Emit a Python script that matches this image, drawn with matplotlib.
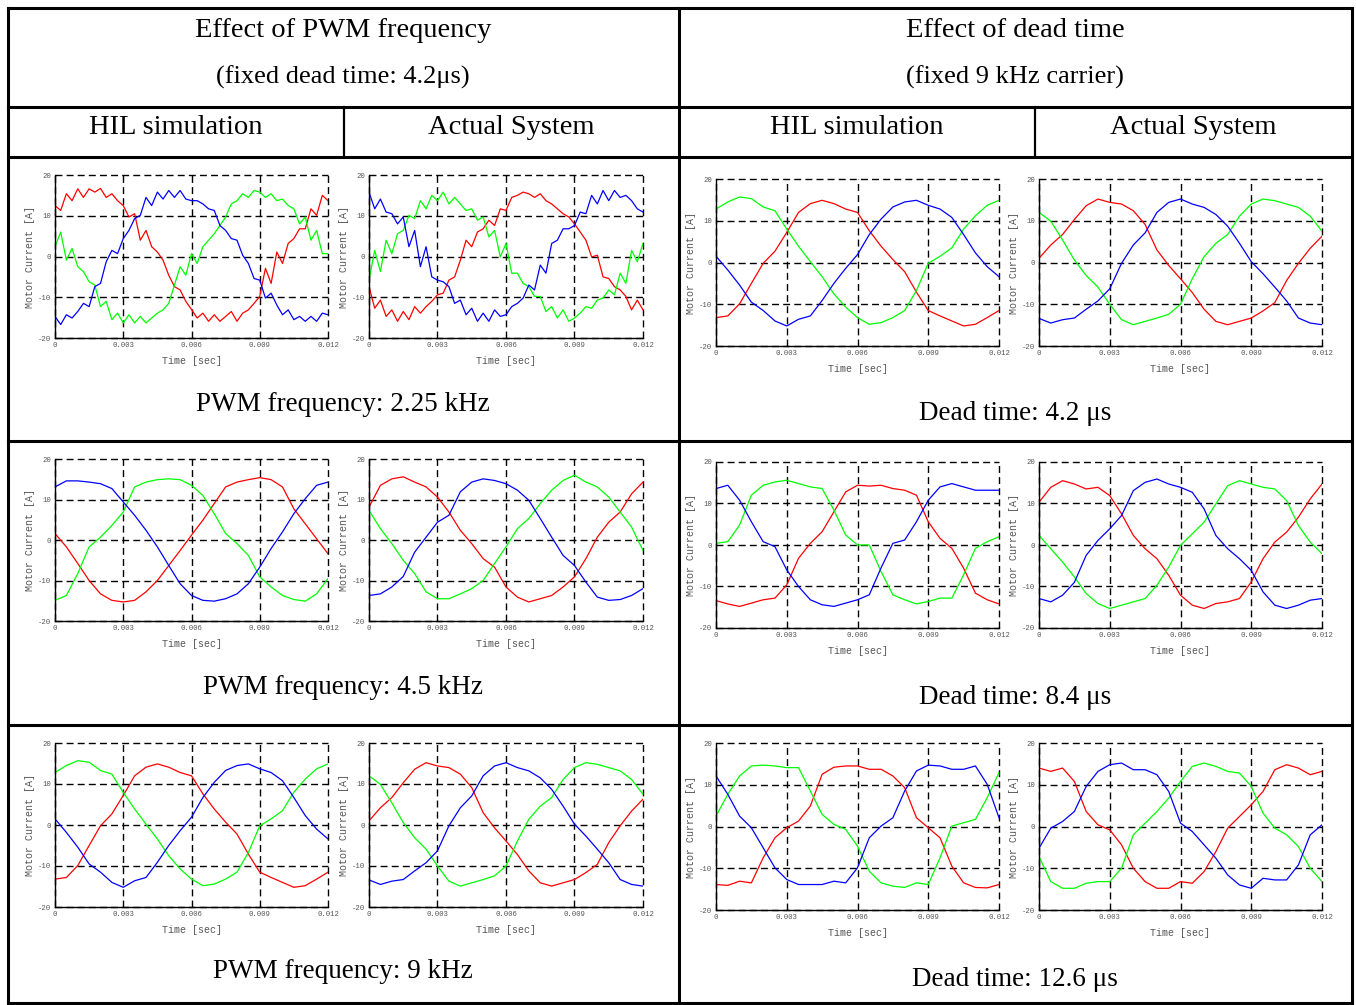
import numpy as np
import matplotlib
matplotlib.use("Agg")
import matplotlib.pyplot as plt

W, H = 1356, 1005

# sample times of the traces
t_fine = np.linspace(0, 0.012, 49)    # 2.25 kHz traces, every 0.25 ms
t_coarse = np.linspace(0, 0.012, 25)  # all other traces, every 0.5 ms

# --- PWM 2.25 kHz ---
pwm225_hil_red = [12.5, 11.3, 15.4, 13.7, 16.6, 14.5, 16.6, 15.8, 16.7, 14.5, 15.4, 13.7, 12.5, 9.7, 10.5,
                  4.0, 6.4, 2.4, 1.1, -0.9, -4.6, -7.4, -8.2, -11.0, -13.0, -15.1, -13.9, -15.9, -14.3,
                  -15.9, -14.7, -13.5, -15.9, -13.9, -13.1, -11.5, -9.8, -2.9, -6.6, 1.1, -1.7, 3.2, 4.4,
                  6.8, 6.8, 11.7, 10.1, 15.0, 13.7]
pwm225_hil_green = [2.4, 6.0, -0.9, 2.0, -2.5, -3.7, -6.2, -7.0, -12.3, -11.0, -15.5, -13.9, -16.3, -14.3,
                    -16.3, -14.7, -16.3, -15.1, -13.9, -13.1, -11.5, -7.0, -2.5, -4.6, 0.7, -1.7, 2.4, 4.0,
                    5.6, 7.6, 9.7, 12.9, 13.7, 15.4, 14.5, 16.2, 15.8, 14.5, 15.4, 13.7, 14.1, 12.5, 11.7,
                    8.0, 9.7, 4.0, 6.4, 0.7, 0.7]
pwm225_hil_blue = [-14.7, -16.7, -14.3, -15.1, -13.5, -11.5, -12.3, -7.4, -6.6, -1.3, 1.5, 0.7, 4.4, 6.4,
                   9.3, 10.1, 14.5, 12.5, 15.8, 14.1, 16.2, 14.5, 16.2, 14.1, 13.7, 13.7, 12.9, 11.7, 11.3,
                   7.6, 6.4, 4.4, 4.0, 0.3, -1.7, -5.4, -5.8, -10.2, -9.0, -11.9, -14.3, -13.1, -15.5,
                   -14.7, -15.9, -14.7, -15.9, -13.9, -14.3]
pwm225_act_red = [-7.4, -12.7, -10.7, -14.7, -13.1, -15.9, -13.5, -15.5, -12.3, -13.9, -12.3, -11.0, -9.4,
                  -9.0, -5.8, -5.0, -0.9, 4.0, 2.4, 6.0, 6.8, 8.9, 7.6, 11.7, 11.3, 14.5, 15.0, 15.8, 15.4,
                  14.5, 15.4, 13.7, 12.9, 11.7, 10.5, 9.7, 8.0, 6.0, 4.0, -0.1, 0.3, -5.0, -5.4, -7.4,
                  -8.2, -9.8, -13.1, -10.7, -13.1]
pwm225_act_green = [-5.8, 1.5, -3.7, 4.0, 0.7, 5.6, 6.4, 10.1, 9.3, 13.7, 11.7, 15.0, 13.7, 15.8, 12.9,
                    14.5, 12.9, 11.3, 11.7, 8.9, 9.7, 4.8, 6.4, -0.1, 3.2, -4.1, -4.1, -6.6, -7.4, -9.8,
                    -9.8, -13.5, -12.3, -15.1, -13.1, -15.9, -15.1, -13.9, -12.3, -12.7, -10.7, -10.2,
                    -8.2, -9.4, -4.1, -6.6, 1.5, -1.3, 3.2]
pwm225_act_blue = [15.8, 11.7, 14.1, 10.9, 10.5, 8.0, 9.7, 2.4, 6.4, -2.5, 2.4, -5.0, -5.8, -6.2, -7.4,
                   -11.5, -10.7, -14.3, -12.7, -15.9, -13.9, -15.9, -13.1, -14.7, -14.3, -12.3, -11.5,
                   -10.2, -7.0, -8.2, -2.1, -4.1, 3.2, 4.0, 6.8, 6.8, 7.6, 10.9, 10.5, 15.0, 12.9, 16.2,
                   13.7, 16.2, 14.5, 15.0, 13.7, 11.7, 10.9]

# --- PWM 4.5 kHz ---
pwm45_hil_red = [1.6, -1.7, -5.8, -10.0, -13.3, -14.9, -15.3, -14.9, -12.8, -10.0, -6.3, -2.6, 1.2, 4.9,
                 9.0, 13.1, 14.3, 14.9, 15.4, 14.9, 13.1, 7.7, 4.0, 0.3, -3.4]
pwm45_hil_green = [-14.9, -13.7, -8.3, -1.7, 0.7, 3.6, 6.9, 13.1, 14.3, 14.9, 15.1, 14.9, 13.5, 11.0, 6.5,
                   1.6, -0.9, -3.8, -9.1, -11.6, -13.7, -14.7, -15.1, -13.3, -9.5]
pwm45_hil_blue = [13.1, 14.6, 14.6, 14.3, 13.9, 12.7, 9.4, 6.1, 2.4, -1.7, -6.3, -10.8, -13.7, -14.9,
                  -15.1, -14.5, -13.3, -10.8, -6.7, -2.1, 2.0, 6.5, 10.2, 13.5, 14.3]
pwm45_act_red = [8.1, 13.5, 15.1, 15.6, 14.3, 13.1, 10.6, 6.9, 2.4, -0.9, -4.6, -6.7, -11.6, -14.1, -15.3,
                 -14.5, -13.7, -11.6, -9.1, -4.6, 0.7, 4.4, 6.9, 11.4, 14.3]
pwm45_act_green = [7.3, 2.8, -0.9, -5.0, -8.3, -12.8, -14.5, -14.5, -13.3, -12.0, -10.0, -5.8, -1.7, 2.8,
                   5.3, 9.0, 12.3, 14.7, 16.0, 14.3, 13.1, 10.6, 6.9, 3.2, -2.6]
pwm45_act_blue = [-13.7, -13.3, -11.6, -9.0, -3.0, 0.7, 4.4, 6.1, 11.9, 14.3, 15.1, 14.7, 13.9, 12.3, 9.8,
                  5.3, 0.7, -3.8, -6.3, -10.4, -14.1, -14.9, -14.7, -13.7, -12.0]

# --- PWM 9 kHz (same records as dead time 4.2 us) ---
pwm9_hil_red = [-13.2, -12.8, -9.9, -5.0, -0.2, 2.7, 7.2, 12.0, 14.1, 14.9, 14.1, 12.8, 12.0, 7.6, 3.9,
                0.7, -2.2, -7.1, -11.5, -12.8, -14.0, -15.2, -14.8, -13.2, -11.5]
pwm9_hil_green = [12.8, 14.5, 15.7, 15.3, 13.3, 12.4, 8.0, 3.9, 0.2, -3.4, -7.5, -10.7, -13.2, -14.8, -14.4,
                  -13.2, -11.5, -6.7, -0.2, 1.5, 3.5, 8.0, 11.2, 13.7, 14.9]
pwm9_hil_blue = [1.5, -1.8, -5.4, -9.5, -11.5, -14.0, -15.2, -13.6, -12.8, -9.1, -5.0, -1.4, 1.9, 6.7, 10.4,
                 13.3, 14.5, 14.9, 13.7, 12.8, 10.8, 6.7, 2.3, -1.0, -3.4]
pwm9_act_red = [1.0, 4.2, 6.7, 10.3, 13.6, 15.2, 14.4, 14.0, 12.4, 9.1, 3.0, -0.7, -3.9, -7.2, -11.2, -14.1,
                -14.9, -14.1, -13.3, -11.6, -9.6, -4.3, -0.2, 3.4, 6.3]
pwm9_act_green = [12.0, 9.9, 5.4, 0.6, -3.1, -5.9, -10.0, -13.7, -14.9, -14.1, -13.3, -12.4, -10.0, -3.9,
                  1.4, 4.6, 6.7, 11.1, 14.0, 15.2, 14.8, 14.0, 13.2, 11.1, 7.5]
pwm9_act_blue = [-13.4, -14.5, -13.7, -13.3, -11.2, -9.2, -6.3, -0.2, 4.2, 7.1, 12.0, 14.4, 15.2, 14.0, 13.2,
                 11.5, 8.7, 4.6, 0.2, -2.7, -5.9, -9.2, -13.3, -14.5, -14.9]

# --- dead time 8.4 us ---
dt84_hil_red = [-13.4, -14.2, -14.8, -14.0, -13.2, -12.8, -9.6, -3.2, 0.4, 3.2, 8.0, 12.8, 14.4, 14.2, 14.4,
                13.6, 13.2, 12.0, 5.6, 1.6, -0.8, -5.6, -11.6, -13.2, -14.2]
dt84_hil_green = [0.4, 0.8, 4.8, 12.0, 14.4, 15.2, 15.6, 14.8, 14.0, 13.6, 8.4, 2.4, 0.0, 0.0, -6.4, -12.0,
                  -13.2, -14.2, -13.6, -12.8, -12.8, -7.2, -0.8, 0.8, 2.0]
dt84_hil_blue = [13.6, 14.4, 10.8, 5.6, 0.8, -0.4, -6.0, -10.0, -13.2, -14.4, -14.8, -14.0, -13.2, -12.0,
                 -5.5, 0.4, 1.2, 5.6, 10.8, 14.0, 14.8, 14.0, 13.2, 13.2, 13.2]
dt84_act_red = [10.3, 13.9, 15.5, 14.7, 13.5, 13.9, 11.9, 7.5, 2.3, -0.9, -3.3, -7.3, -12.1, -14.5, -15.3,
                -14.1, -13.7, -12.9, -8.9, -3.3, 0.7, 3.1, 6.7, 11.1, 14.7]
dt84_act_green = [2.3, -0.9, -4.1, -7.7, -11.7, -14.1, -15.3, -14.5, -13.7, -12.9, -9.7, -5.3, -0.1, 2.7,
                  5.5, 9.9, 14.3, 15.5, 14.7, 13.9, 13.5, 10.7, 4.7, 0.7, -2.1]
dt84_act_blue = [-12.9, -13.7, -12.1, -9.0, -2.5, 1.1, 3.9, 7.1, 13.1, 15.1, 15.9, 14.7, 13.9, 12.7, 8.7,
                 2.3, -0.9, -3.3, -6.1, -11.3, -14.5, -15.3, -14.5, -13.3, -12.9]

# --- dead time 12.6 us ---
dt126_hil_red = [-13.9, -14.1, -13.1, -13.5, -7.5, -2.7, -0.3, 1.3, 4.9, 12.5, 14.2, 14.5, 14.5, 13.7, 13.7,
                 12.1, 9.3, 2.1, -0.3, -2.7, -9.5, -13.5, -14.6, -14.7, -13.9]
dt126_hil_green = [2.5, 7.7, 12.1, 14.5, 14.7, 14.5, 14.1, 14.1, 8.5, 2.9, 0.5, -0.7, -4.7, -10.7, -13.5,
                   -14.3, -14.6, -13.5, -13.9, -7.5, 0.1, 0.9, 1.7, 6.9, 12.9]
dt126_hil_blue = [12.1, 7.7, 2.5, -0.3, -5.1, -9.9, -12.7, -13.9, -13.9, -13.9, -13.1, -13.5, -9.9, -2.7,
                  0.1, 2.1, 8.5, 13.3, 14.7, 14.5, 13.7, 13.7, 14.5, 10.1, 2.1]
dt126_act_red = [14.0, 13.2, 14.0, 10.8, 3.6, 0.4, -0.8, -4.4, -10.0, -13.2, -14.8, -14.8, -13.2, -13.6,
                 -10.8, -6.0, -0.4, 2.4, 5.2, 8.4, 13.6, 14.8, 14.0, 12.4, 13.2]
dt126_act_green = [-7.2, -13.2, -14.8, -14.8, -13.6, -13.2, -13.2, -10.0, -2.0, 0.8, 3.6, 6.8, 10.8, 14.4,
                   15.2, 14.4, 13.2, 12.8, 9.6, 3.2, -0.4, -2.0, -4.8, -10.0, -13.2]
dt126_act_blue = [-5.2, -0.4, 1.2, 3.6, 9.6, 13.2, 14.8, 15.2, 13.6, 13.6, 12.4, 8.4, 0.8, -1.2, -4.4, -7.6,
                  -11.6, -14.0, -14.8, -12.4, -12.8, -12.8, -9.2, -2.0, 0.4]

x_ticks = [0, 0.003, 0.006, 0.009, 0.012]
x_labels = ["0", "0.003", "0.006", "0.009", "0.012"]
y_ticks = [-20, -10, 0, 10, 20]
y_labels = ["-20", "-10", "0", "10", "20"]

pwm_captions = ["PWM frequency: 2.25 kHz", "PWM frequency: 4.5 kHz", "PWM frequency: 9 kHz"]
dt_captions = ["Dead time: 4.2 \u03bcs", "Dead time: 8.4 \u03bcs", "Dead time: 12.6 \u03bcs"]

SERIF = ["Liberation Serif", "DejaVu Serif"]
MONO = ["Liberation Mono", "DejaVu Sans Mono"]
GRAY = "#555555"

fig = plt.figure(figsize=(W / 100, H / 100), dpi=100)

# background axes in pixel coordinates for the table
bg = fig.add_axes([0, 0, 1, 1])
bg.set_xlim(0, W)
bg.set_ylim(H, 0)
bg.axis("off")

lw_table = 2.2
for y in (8, 107, 157, 441, 725, 1003):
    bg.plot([8, 1352], [y, y], color="black", lw=lw_table, solid_capstyle="projecting")
for x in (8, 679, 1352):
    bg.plot([x, x], [8, 1003], color="black", lw=lw_table, solid_capstyle="projecting")
for x in (344, 1035):
    bg.plot([x, x], [107, 157], color="black", lw=1.6)

bg.text(343, 30, "Effect of PWM frequency", ha="center", va="center", fontsize=20.5, family=SERIF)
bg.text(343, 77, "(fixed dead time: 4.2\u03bcs)", ha="center", va="center", fontsize=19, family=SERIF)
bg.text(1015, 30, "Effect of dead time", ha="center", va="center", fontsize=20.5, family=SERIF)
bg.text(1015, 77, "(fixed 9 kHz carrier)", ha="center", va="center", fontsize=19, family=SERIF)
for cx, label in ((176, "HIL simulation"), (511, "Actual System"),
                  (857, "HIL simulation"), (1193, "Actual System")):
    bg.text(cx, 127, label, ha="center", va="center", fontsize=20.5, family=SERIF)

for cy, label in zip((404, 687, 971), pwm_captions):
    bg.text(343, cy, label, ha="center", va="center", fontsize=19.5, family=SERIF)
for cy, label in zip((413, 697, 979), dt_captions):
    bg.text(1015, cy, label, ha="center", va="center", fontsize=19.5, family=SERIF)


def draw_panel(box, traces, t):
    left, top, right, bottom = box
    ax = fig.add_axes([left / W, 1 - bottom / H, (right - left) / W, (bottom - top) / H])
    for y, c in zip(traces, ("#ff0000", "#00ff00", "#0000ff")):
        ax.plot(t, y, color=c, lw=0.9)
    ax.set_xlim(0, 0.012)
    ax.set_ylim(-20, 20)
    ax.set_xticks(x_ticks)
    ax.set_xticklabels(x_labels)
    ax.set_yticks(y_ticks)
    ax.set_yticklabels(y_labels)
    ax.tick_params(length=0, pad=3, labelsize=5.2, labelcolor=GRAY)
    for lab in ax.get_xticklabels() + ax.get_yticklabels():
        lab.set_family(MONO)
    ax.grid(True, color="black", lw=1.0, ls=(0, (5.0, 3.0)))
    for g in ax.xaxis.get_gridlines() + ax.yaxis.get_gridlines():
        g.set_clip_on(False)
    ax.spines["top"].set_visible(False)
    ax.spines["right"].set_visible(False)
    ax.spines["left"].set_linewidth(1.0)
    ax.spines["bottom"].set_linewidth(1.0)
    ax.set_xlabel("Time [sec]", fontsize=7.2, color=GRAY, family=MONO, labelpad=5)
    ax.set_ylabel("Motor Current [A]", fontsize=7.2, color=GRAY, family=MONO, labelpad=2)
    ax.set_facecolor("none")
    return ax


left_rows = [(175, 338), (459, 621), (743, 907)]
right_rows = [(179, 346), (462, 628), (743, 910)]

pwm_hil = [(pwm225_hil_red, pwm225_hil_green, pwm225_hil_blue),
           (pwm45_hil_red, pwm45_hil_green, pwm45_hil_blue),
           (pwm9_hil_red, pwm9_hil_green, pwm9_hil_blue)]
pwm_act = [(pwm225_act_red, pwm225_act_green, pwm225_act_blue),
           (pwm45_act_red, pwm45_act_green, pwm45_act_blue),
           (pwm9_act_red, pwm9_act_green, pwm9_act_blue)]
pwm_t = [t_fine, t_coarse, t_coarse]
dt_hil = [(pwm9_hil_red, pwm9_hil_green, pwm9_hil_blue),
          (dt84_hil_red, dt84_hil_green, dt84_hil_blue),
          (dt126_hil_red, dt126_hil_green, dt126_hil_blue)]
dt_act = [(pwm9_act_red, pwm9_act_green, pwm9_act_blue),
          (dt84_act_red, dt84_act_green, dt84_act_blue),
          (dt126_act_red, dt126_act_green, dt126_act_blue)]

for i in range(3):
    top, bottom = left_rows[i]
    draw_panel((55, top, 328, bottom), pwm_hil[i], pwm_t[i])
    draw_panel((369, top, 643, bottom), pwm_act[i], pwm_t[i])
    top, bottom = right_rows[i]
    draw_panel((716, top, 999, bottom), dt_hil[i], t_coarse)
    draw_panel((1039, top, 1322, bottom), dt_act[i], t_coarse)

fig.savefig("out.png", dpi=100, facecolor="white")
